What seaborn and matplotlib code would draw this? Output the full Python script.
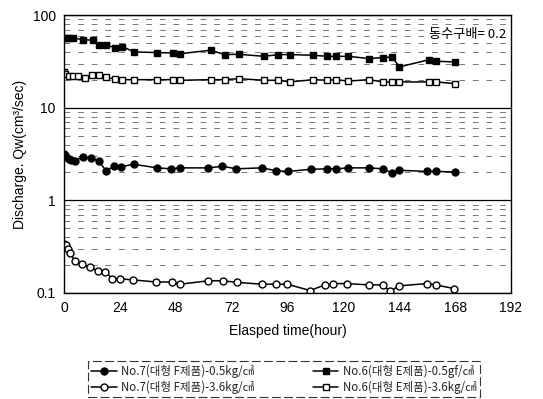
import numpy as np
import pandas as pd
import seaborn as sns
import matplotlib
matplotlib.use("Agg")
import matplotlib.pyplot as plt
from matplotlib.lines import Line2D
from matplotlib.ticker import LogLocator, FixedLocator, NullFormatter

# ---- data ----
t_no6_05 = [0, 1, 2, 4, 8, 12.5, 15, 18, 22, 25, 30, 40, 47, 50, 63, 69, 75, 86, 92, 97,
            107, 113, 117, 122, 131, 137, 141, 144, 157, 160, 168]
v_no6_05 = [57.3, 57.3, 57.3, 56.5, 54.5, 53.5, 48, 47.3, 44.7, 45.8, 40.1, 39.4, 39.1, 38.4, 41.8,
            37.5, 37.8, 35.9, 37.5, 37.5, 36.9, 35.9, 35.9, 35.9, 34.0, 34.8, 35.4, 27.6, 33.1, 31.8, 31.2]

t_no6_36 = [0, 0.5, 2, 4, 6, 9, 12, 15, 18, 22, 25, 30, 40, 47, 50, 63, 69, 75, 86, 92, 97,
            107, 113, 117, 122, 131, 137, 141, 144, 157, 160, 168]
v_no6_36 = [24.3, 23.0, 21.8, 21.8, 21.8, 21.1, 22.4, 22.4, 21.3, 20.4, 20.1, 20.1, 20.1, 20.1, 19.8,
            20.1, 20.1, 20.6, 19.8, 19.8, 19.0, 20.1, 19.8, 20.1, 19.4, 20.1, 19.0, 19.0, 19.0, 19.0, 19.0, 18.2]

t_no7_05 = [0, 0.5, 1, 2, 3, 4.5, 8, 11.5, 15, 18, 21.5, 24.5, 30, 40, 46, 50, 62, 68, 74, 85, 91, 96,
            106, 113, 117, 122, 131, 137, 141, 144, 156, 160, 168]
v_no7_05 = [3.18, 3.05, 2.92, 2.80, 2.75, 2.69, 2.92, 2.87, 2.64, 2.09, 2.33, 2.31, 2.45, 2.24, 2.19, 2.24,
            2.24, 2.33, 2.19, 2.24, 2.09, 2.05, 2.16, 2.19, 2.19, 2.24, 2.24, 2.19, 1.97, 2.11, 2.05, 2.05, 2.02]

t_no7_36 = [0, 0.3, 1, 1.7, 2.7, 4.6, 7.5, 11, 14.6, 17.5, 20.8, 23.9, 29.7, 39.7, 46.2, 49.8, 61.9,
            68.1, 74.1, 84.9, 91, 95.9, 105.7, 112.1, 115.7, 121.4, 130.8, 136.9, 140.1, 143.9, 155.8,
            159.7, 167.7]
v_no7_36 = [0.339, 0.313, 0.325, 0.300, 0.270, 0.220, 0.205, 0.188, 0.174, 0.170, 0.142, 0.142, 0.138,
            0.131, 0.131, 0.124, 0.135, 0.135, 0.130, 0.124, 0.124, 0.124, 0.106, 0.122, 0.126, 0.126,
            0.122, 0.122, 0.104, 0.119, 0.126, 0.122, 0.111]

labels = ["No.7(대형 F제품)-0.5kg/㎠", "No.7(대형 F제품)-3.6kg/㎠",
          "No.6(대형 E제품)-0.5gf/㎠", "No.6(대형 E제품)-3.6kg/㎠"]
x_ticks = [0, 24, 48, 72, 96, 120, 144, 168, 192]
y_ticks = [0.1, 1, 10, 100]
y_ticklabels = ["0.1", "1", "10", "100"]

# ---- style ----
sns.set_theme(style="white")
plt.rcParams["font.family"] = ["Liberation Sans", "Noto Sans CJK KR", "DejaVu Sans"]
cjk = ["Noto Sans CJK KR", "DejaVu Sans"]

fig = plt.figure(figsize=(5.43, 3.99), dpi=100)
ax = fig.add_axes([0.118, 0.266, 0.823, 0.696])

series = [
    (t_no7_05, v_no7_05, "o", "black"),
    (t_no7_36, v_no7_36, "o", "white"),
    (t_no6_05, v_no6_05, "s", "black"),
    (t_no6_36, v_no6_36, "s", "white"),
]
for (t, v, m, fc), lab in zip(series, labels):
    df = pd.DataFrame({"t": t, "v": v})
    sns.lineplot(data=df, x="t", y="v", ax=ax, color="black", lw=1.1,
                 marker=m, markersize=5, markerfacecolor=fc, markeredgecolor="black",
                 markeredgewidth=1.0, estimator=None, sort=False, legend=False)

ax.set_yscale("log")
ax.set_xlim(0, 192)
ax.set_ylim(0.1, 100)
ax.xaxis.set_major_locator(FixedLocator(x_ticks))
ax.set_xticklabels([str(x) for x in x_ticks])
ax.yaxis.set_major_locator(FixedLocator(y_ticks))
ax.set_yticklabels(y_ticklabels)
ax.yaxis.set_minor_locator(LogLocator(base=10, subs=np.arange(2, 10)))
ax.yaxis.set_minor_formatter(NullFormatter())
ax.tick_params(axis="both", which="both", length=0, labelsize=10, colors="black", pad=6)

ax.grid(which="major", axis="y", color="black", lw=0.9)
ax.grid(which="minor", axis="y", color="#777777", lw=0.7, linestyle=(0, (6, 8)))
ax.grid(which="both", axis="x", visible=False)
for s in ax.spines.values():
    s.set_color("black")
    s.set_linewidth(1.0)

ax.set_xlabel("Elasped time(hour)", fontsize=10, color="black", labelpad=6)
ax.set_ylabel("Discharge. Qw(cm³/sec)", fontsize=10, color="black", labelpad=4)

ax.text(0.99, 0.955, "동수구배= 0.2", transform=ax.transAxes, ha="right", va="top",
        fontsize=9.5, family=cjk, color="black",
        bbox=dict(facecolor="white", edgecolor="none", pad=1))

handles = [Line2D([], [], color="black", lw=1.1, marker=m, markersize=5,
                  markerfacecolor=fc, markeredgecolor="black") for (_, _, m, fc) in series]
leg = fig.legend(handles, labels, ncol=2, loc="lower left",
                 bbox_to_anchor=(0.162, 0.005, 0.722, 0.105), mode="expand",
                 prop={"family": cjk, "size": 8.3}, frameon=True, fancybox=False,
                 handlelength=2.2, handletextpad=0.4, columnspacing=1.5,
                 borderaxespad=0, labelspacing=0.2, borderpad=0.3)
leg.get_frame().set_edgecolor("black")
leg.get_frame().set_linewidth(0.8)
leg.get_frame().set_linestyle((0, (8, 3)))

fig.savefig("out.png", dpi=100)
